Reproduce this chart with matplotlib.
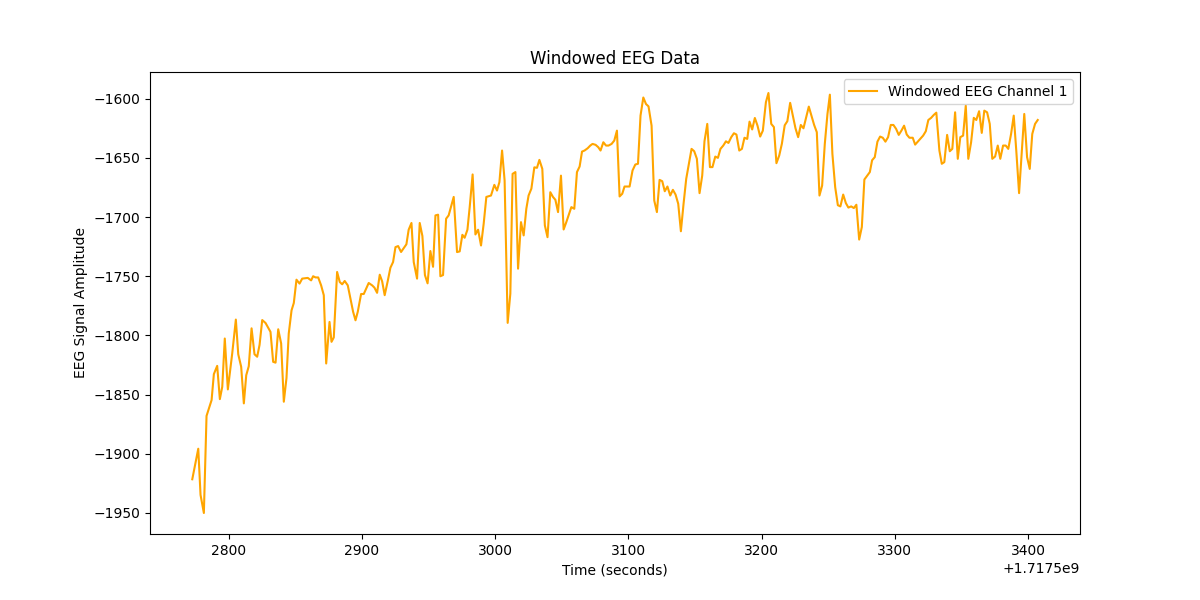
import numpy as np
import matplotlib
matplotlib.use('Agg')
import matplotlib.pyplot as plt

# timestamps are offsets from 1.7175e9
base_time = 1.7175e9
time_offset = [
    2772.8, 2777.3, 2779.0, 2781.5, 2783.5, 2787.3, 2789.0, 2791.5, 2793.5, 2795.3,
    2797.2, 2799.5, 2802.8, 2805.5, 2807.3, 2809.5, 2811.5, 2813.3, 2815.2, 2817.3,
    2819.5, 2821.5, 2823.3, 2825.3, 2827.8, 2831.5, 2833.5, 2835.3, 2837.3, 2839.5,
    2841.5, 2843.5, 2845.2, 2847.3, 2849.0, 2851.0, 2853.3, 2855.3, 2859.5, 2862.0,
    2863.5, 2865.3, 2867.3, 2869.5, 2871.5, 2873.3, 2875.8, 2877.3, 2879.0, 2881.5,
    2883.5, 2885.3, 2887.2, 2889.5, 2891.5, 2893.5, 2895.3, 2897.0, 2899.5, 2901.5,
    2905.2, 2907.8, 2909.5, 2911.5, 2913.5, 2915.3, 2917.2, 2919.5, 2921.5, 2923.5,
    2925.3, 2927.3, 2929.5, 2933.5, 2935.2, 2937.3, 2939.0, 2941.5, 2943.5, 2945.5,
    2947.4, 2949.4, 2951.5, 2953.5, 2955.3, 2957.3, 2959.0, 2961.0, 2963.3, 2965.2,
    2969.0, 2971.5, 2973.5, 2975.5, 2977.2, 2979.3, 2981.0, 2983.2, 2985.3, 2987.3,
    2989.5, 2991.5, 2993.5, 2997.0, 2999.5, 3001.5, 3003.3, 3005.3, 3007.2, 3009.5,
    3011.5, 3013.2, 3015.3, 3017.3, 3019.5, 3021.5, 3023.5, 3025.2, 3027.3, 3029.5,
    3031.5, 3033.3, 3035.5, 3037.4, 3039.4, 3041.5, 3043.5, 3045.3, 3047.3, 3049.5,
    3051.5, 3053.5, 3055.2, 3057.3, 3059.5, 3061.5, 3063.5, 3065.3, 3067.2, 3069.5,
    3071.5, 3073.2, 3075.5, 3077.5, 3079.2, 3081.3, 3083.3, 3085.2, 3087.5, 3089.5,
    3091.5, 3093.5, 3095.5, 3097.2, 3101.0, 3103.2, 3105.3, 3107.3, 3109.2, 3111.3,
    3113.3, 3115.2, 3117.5, 3119.5, 3121.5, 3123.5, 3125.5, 3127.4, 3129.4, 3131.5,
    3133.5, 3135.5, 3137.5, 3139.5, 3141.5, 3143.5, 3145.5, 3147.5, 3149.5, 3151.5,
    3153.5, 3155.5, 3157.2, 3159.3, 3161.3, 3163.2, 3165.3, 3167.3, 3169.2, 3171.3,
    3173.3, 3175.2, 3177.3, 3179.3, 3181.2, 3183.3, 3185.3, 3187.2, 3189.3, 3191.0,
    3193.0, 3195.0, 3197.0, 3199.0, 3201.0, 3203.3, 3205.2, 3207.3, 3209.3, 3211.2,
    3213.3, 3215.3, 3217.4, 3219.4, 3221.5, 3223.5, 3225.5, 3227.5, 3229.5, 3231.5,
    3233.5, 3235.5, 3237.5, 3239.5, 3241.5, 3243.5, 3245.5, 3247.5, 3249.5, 3251.3,
    3253.2, 3255.3, 3257.3, 3259.2, 3261.3, 3263.3, 3265.2, 3267.3, 3269.3, 3271.2,
    3273.3, 3275.3, 3277.2, 3279.3, 3281.3, 3283.0, 3285.0, 3287.0, 3289.0, 3291.0,
    3293.0, 3295.0, 3297.0, 3299.0, 3301.0, 3303.0, 3305.0, 3307.0, 3309.0, 3311.0,
    3313.5, 3315.3, 3317.3, 3319.2, 3321.3, 3323.3, 3325.2, 3327.3, 3329.3, 3331.2,
    3333.5, 3335.3, 3337.2, 3339.3, 3341.3, 3343.2, 3345.3, 3347.3, 3349.2, 3351.3,
    3353.3, 3355.2, 3357.3, 3359.3, 3361.2, 3363.3, 3365.3, 3367.2, 3369.3, 3371.3,
    3373.2, 3375.3, 3377.3, 3379.2, 3381.3, 3383.3, 3385.2, 3387.3, 3389.3, 3391.2,
    3393.3, 3395.3, 3397.2, 3399.3, 3401.3, 3403.2, 3405.3, 3407.3,
]
eeg_channel_1 = [
    -1921.5, -1895.7, -1934.7, -1950.0, -1868.0, -1854.6, -1832.7, -1825.7, -1853.8, -1843.4,
    -1802.6, -1845.6, -1815.0, -1786.6, -1815.9, -1826.5, -1857.4, -1833.6, -1826.0, -1794.0,
    -1815.9, -1818.0, -1808.0, -1787.0, -1789.5, -1797.0, -1822.3, -1823.0, -1794.8, -1806.8,
    -1856.0, -1836.0, -1798.4, -1778.8, -1772.6, -1752.9, -1756.2, -1752.0, -1751.4, -1753.5,
    -1750.0, -1751.0, -1751.0, -1757.7, -1766.0, -1823.7, -1788.6, -1805.4, -1801.7, -1746.4,
    -1754.9, -1756.8, -1754.0, -1757.7, -1768.9, -1780.0, -1787.2, -1780.0, -1765.0, -1765.0,
    -1755.7, -1757.7, -1759.6, -1764.0, -1748.7, -1754.3, -1766.0, -1754.0, -1742.8, -1738.0,
    -1725.4, -1724.5, -1729.5, -1723.0, -1710.7, -1705.0, -1738.0, -1752.0, -1705.0, -1716.0,
    -1749.0, -1756.0, -1728.7, -1742.0, -1698.6, -1698.0, -1750.0, -1749.0, -1701.4, -1698.6,
    -1683.0, -1729.6, -1729.0, -1715.0, -1717.5, -1710.7, -1691.6, -1664.0, -1714.7, -1710.7,
    -1724.0, -1705.6, -1683.0, -1681.8, -1672.8, -1677.6, -1670.5, -1643.8, -1669.0, -1789.4,
    -1764.7, -1663.5, -1662.0, -1743.6, -1704.3, -1715.5, -1693.0, -1681.8, -1676.0, -1658.0,
    -1658.4, -1651.7, -1659.3, -1707.0, -1717.0, -1679.0, -1683.0, -1685.4, -1695.8, -1665.0,
    -1710.5, -1704.3, -1698.6, -1691.6, -1693.0, -1662.0, -1657.3, -1644.7, -1643.8, -1641.9,
    -1639.6, -1638.2, -1639.0, -1641.0, -1643.8, -1636.8, -1639.6, -1639.6, -1638.2, -1635.4,
    -1627.0, -1682.6, -1680.3, -1674.2, -1674.2, -1660.7, -1655.6, -1655.0, -1614.3, -1599.0,
    -1604.5, -1606.5, -1622.8, -1686.0, -1695.8, -1668.6, -1669.7, -1678.2, -1674.2, -1681.8,
    -1677.0, -1681.0, -1688.8, -1712.0, -1688.8, -1667.7, -1655.0, -1642.4, -1644.4, -1650.8,
    -1679.8, -1665.0, -1636.0, -1621.3, -1657.8, -1657.8, -1648.9, -1650.0, -1642.4, -1639.6,
    -1636.0, -1637.4, -1632.5, -1629.2, -1630.3, -1643.8, -1642.4, -1633.0, -1634.0, -1619.4,
    -1626.0, -1616.3, -1622.8, -1632.0, -1627.0, -1603.0, -1595.2, -1621.3, -1624.0, -1654.5,
    -1648.0, -1638.0, -1622.5, -1619.0, -1603.5, -1614.3, -1625.0, -1632.5, -1622.2, -1625.0,
    -1615.7, -1606.7, -1614.3, -1622.2, -1628.3, -1681.8, -1673.4, -1638.2, -1612.9, -1596.6,
    -1646.6, -1674.8, -1690.0, -1691.0, -1681.0, -1688.2, -1692.0, -1691.0, -1692.4, -1689.6,
    -1719.0, -1708.4, -1668.3, -1665.0, -1662.0, -1652.0, -1649.4, -1636.3, -1632.0, -1633.0,
    -1636.3, -1632.5, -1622.2, -1622.2, -1625.5, -1630.6, -1627.0, -1622.8, -1630.3, -1633.0,
    -1633.0, -1638.8, -1636.3, -1634.0, -1631.2, -1627.5, -1618.0, -1616.2, -1613.7, -1611.8,
    -1643.8, -1655.0, -1653.6, -1630.6, -1644.4, -1642.4, -1611.5, -1650.8, -1632.5, -1631.2,
    -1605.9, -1650.8, -1636.8, -1616.2, -1618.0, -1610.6, -1628.9, -1610.1, -1611.5, -1621.3,
    -1650.8, -1648.9, -1639.6, -1650.8, -1639.6, -1639.6, -1642.4, -1629.8, -1614.3, -1643.8,
    -1679.8, -1645.2, -1612.9, -1649.4, -1659.3, -1629.8, -1621.3, -1618.0,
]

time_sec = base_time + np.array(time_offset)

plt.figure(figsize=(12, 6))
plt.plot(time_sec, eeg_channel_1, label='Windowed EEG Channel 1', color='orange')
plt.title('Windowed EEG Data')
plt.xlabel('Time (seconds)')
plt.ylabel('EEG Signal Amplitude')
plt.legend(loc='upper right')
plt.savefig('out.png', dpi=100)
